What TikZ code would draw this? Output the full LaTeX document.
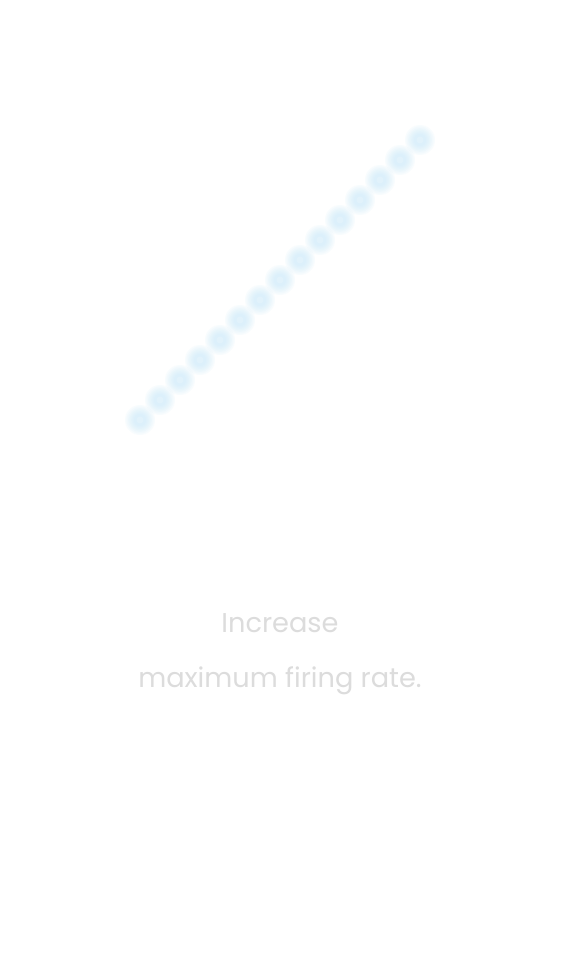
\documentclass[tikz,border=0pt]{standalone}
\usepackage{fontspec}
\setmainfont{Poppins}
\definecolor{dotblue}{HTML}{C4E9FB}
\definecolor{txtgray}{HTML}{DCDCDC}
\tikzset{
  caption/.style={text=txtgray, font=\fontsize{27.2}{27.2}\selectfont, anchor=base, inner sep=0pt},
  glow/.style={fill=dotblue, draw=none, fill opacity=0.11},
  dotcore/.style={fill=white, draw=none, fill opacity=0.15}
}
\begin{document}
\begin{tikzpicture}[x=1pt,y=-1pt]
\useasboundingbox (0,0) rectangle (560,960);
\fill[white] (0,0) rectangle (560,960);
\foreach \i in {0,...,14}{
  \coordinate (d\i) at (140+20*\i, 420-20*\i);
  \foreach \r in {15,13.5,12,10.5,9,7.5,6}{
    \fill[glow] (d\i) circle (\r);
  }
  \fill[dotcore] (d\i) circle (3.5);
}
\node[caption] (l1) at (280,632) {Increase};
\node[caption] (l2) at (280,687) {maximum firing rate.};
\end{tikzpicture}
\end{document}
